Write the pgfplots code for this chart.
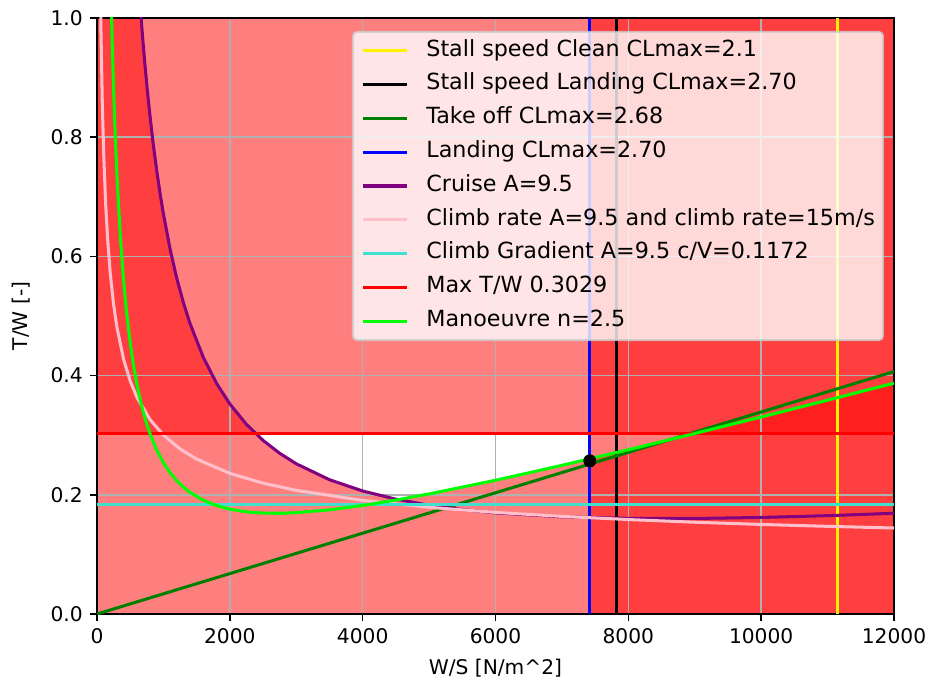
\documentclass[border=0pt]{standalone}
\usepackage{fontspec}
\setmainfont{DejaVu Sans}
\usepackage{pgfplots}
\pgfplotsset{compat=1.18}

\definecolor{tkgreen}{HTML}{008000}
\definecolor{mplpurple}{HTML}{800080}
\definecolor{mplpink}{HTML}{FFC0CB}
\definecolor{mplturq}{HTML}{40E0D0}
\definecolor{mpllime}{HTML}{00FF00}
\definecolor{gridgray}{HTML}{B0B0B0}
\definecolor{legedge}{HTML}{CCCCCC}

\begin{document}
\begin{tikzpicture}
\begin{axis}[
    set layers=standard,
    scale only axis,
    width=394.2pt, height=294.8pt,
    xmin=0, xmax=12000, ymin=0, ymax=1,
    xtick={0,2000,4000,6000,8000,10000,12000},
    ytick={0,0.2,0.4,0.6,0.8,1.0},
    scaled x ticks=false,
    xticklabel style={/pgf/number format/.cd, fixed, set thousands separator={}, assume math mode=true},
    yticklabel style={/pgf/number format/.cd, fixed, fixed zerofill, precision=1, assume math mode=true},
    tick align=outside, tick pos=left,
    major tick length=3.5pt,
    tick style={black, line width=0.8pt},
    axis line style={line width=0.8pt},
    grid=major,
    grid style={gridgray, line width=0.8pt},
    xlabel={W/S [N/m\textasciicircum2]},
    ylabel={T/W [-]},
    every axis x label/.style={at={(rel axis cs:0.5,0)}, yshift=-26.7pt, anchor=center},
    every axis y label/.style={at={(rel axis cs:0,0.5)}, xshift=-37.3pt, rotate=90, anchor=center},
    legend cell align=left,
    legend image code/.code={\draw[#1, draw opacity=1] (0pt,0pt) -- (22pt,0pt);},
    legend style={at={(0.9874,0.9783)}, anchor=north east,
        font=\fontsize{11}{13}\selectfont,
        fill=white, fill opacity=0.8, draw=legedge, draw opacity=0.8, text opacity=1,
        line width=1pt, rounded corners=2pt,
        inner xsep=4pt, inner ysep=3.8pt, row sep=5.5pt, column sep=8.8pt,
        nodes={inner sep=0pt, text height=8.2pt, text depth=3pt}},
]

% infeasible regions
\addplot[forget plot, draw=none, fill=red, fill opacity=0.5, on layer=axis background]
    coordinates {(0,0.3029) (12000,0.3029) (12000,1) (0,1)} -- cycle;
\addplot[forget plot, draw=none, fill=red, fill opacity=0.5, on layer=axis background]
    coordinates {(0,0) (0,1) (664,1) (680,0.9769) (720,0.9237) (760,0.8761)
    (800,0.8334) (850,0.7856) (900,0.7432) (950,0.7053) (1000,0.6712) (1100,0.6125)
    (1200,0.5637) (1300,0.5226) (1400,0.4875) (1600,0.4307) (1800,0.3870) (2000,0.3524)
    (2250,0.3182) (2500,0.2913) (2750,0.2697) (3000,0.2521) (3500,0.2253) (4000,0.2064)
    (4535,0.1919) (5000,0.2015) (6000,0.2244) (7000,0.2494) (8000,0.2757) (9000,0.3028)
    (10000,0.3306) (11000,0.3588) (12000,0.3873) (12000,0)} -- cycle;
\addplot[forget plot, draw=none, fill=red, fill opacity=0.5, on layer=axis background]
    coordinates {(7420,0) (12000,0) (12000,1) (7420,1)} -- cycle;

\addplot[yellow, line width=1.5pt] coordinates {(11147,0) (11147,1)};
\addlegendentry{Stall speed Clean CLmax=2.1}
\addplot[black, line width=1.5pt] coordinates {(7825,0) (7825,1)};
\addlegendentry{Stall speed Landing CLmax=2.70}
\addplot[tkgreen, line width=1.5pt] coordinates {(0,0) (12000,0.4068)};
\addlegendentry{Take off CLmax=2.68}
\addplot[blue, line width=1.5pt] coordinates {(7420,0) (7420,1)};
\addlegendentry{Landing CLmax=2.70}
\addplot[mplpurple, line width=1.5pt] coordinates {
    (640,1.0368) (680,0.9769) (720,0.9237) (760,0.8761) (800,0.8334) (850,0.7856)
    (900,0.7432) (950,0.7053) (1000,0.6712) (1100,0.6125) (1200,0.5637) (1300,0.5226)
    (1400,0.4875) (1600,0.4307) (1800,0.3870) (2000,0.3524) (2250,0.3182) (2500,0.2913)
    (2750,0.2697) (3000,0.2521) (3500,0.2253) (4000,0.2064) (4500,0.1927) (5000,0.1826)
    (5500,0.1752) (6000,0.1697) (7000,0.1631) (8000,0.1604) (9000,0.1603) (10000,0.1620)
    (11000,0.1650) (12000,0.1690)};
\addlegendentry{Cruise A=9.5}
\addplot[mplpink, line width=1.5pt] coordinates {
    (50,1.0611) (60,0.9757) (80,0.8558) (100,0.7740) (130,0.6888) (160,0.6289)
    (200,0.5710) (250,0.5193) (300,0.4811) (400,0.4275) (500,0.3909) (600,0.3639)
    (800,0.3260) (1000,0.3001) (1250,0.2770) (1500,0.2599) (2000,0.2360) (2500,0.2196)
    (3000,0.2075) (4000,0.1906) (5000,0.1790) (6000,0.1705) (7000,0.1638) (8000,0.1585)
    (9000,0.1540) (10000,0.1503) (11000,0.1471) (12000,0.1443)};
\addlegendentry{Climb rate A=9.5 and climb rate=15m/s}
\addplot[mplturq, line width=1.5pt] coordinates {(0,0.1845) (12000,0.1845)};
\addlegendentry{Climb Gradient A=9.5 c/V=0.1172}
\addplot[red, line width=1.5pt] coordinates {(0,0.3029) (12000,0.3029)};
\addlegendentry{Max T/W 0.3029}
\addplot[mpllime, line width=1.5pt] coordinates {
    (200,1.0948) (210,1.0436) (230,0.9546) (250,0.8800) (270,0.8165) (300,0.7373)
    (350,0.6359) (400,0.5601) (450,0.5016) (500,0.4550) (550,0.4172) (600,0.3860)
    (650,0.3597) (700,0.3375) (750,0.3184) (800,0.3019) (900,0.2749) (1000,0.2538)
    (1100,0.2372) (1200,0.2238) (1300,0.2130) (1400,0.2041) (1600,0.1908) (1800,0.1819)
    (2000,0.1759) (2250,0.1714) (2500,0.1693) (2750,0.1690) (3000,0.1700) (3500,0.1748)
    (4000,0.1821) (4500,0.1912) (5000,0.2015) (6000,0.2244) (7000,0.2494) (8000,0.2757)
    (9000,0.3028) (10000,0.3306) (11000,0.3588) (12000,0.3873)};
\addlegendentry{Manoeuvre n=2.5}

\addplot[forget plot, only marks, mark=*, mark size=3pt, black] coordinates {(7420,0.257)};
\end{axis}
\pgfresetboundingbox
\path ([shift={(-47.98pt,-35.61pt)}]current axis.south west)
    rectangle ([shift={(18.30pt,8.90pt)}]current axis.north east);
\end{tikzpicture}
\end{document}
